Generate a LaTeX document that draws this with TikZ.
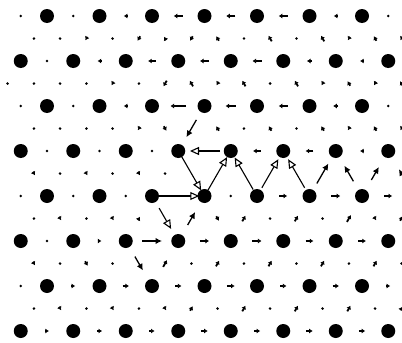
\documentclass[tikz,border=0pt]{standalone}
\usetikzlibrary{arrows.meta}
\begin{document}
\begin{tikzpicture}[x=1pt, y=-1pt,
    disp/.style={line width=1.8pt, -{Latex[length=3.6pt, width=5pt]}},
    bigdisp/.style={line width=1.3pt, -{Latex[length=6.5pt, width=6.5pt]}},
    opendisp/.style={line width=1.1pt, -{Triangle[fill=white, length=9pt, width=8pt]}}]
    \useasboundingbox (0,0) rectangle (402,343);
    % lattice sites
    \foreach \y in {16,106,196,286} {
        \foreach \k in {0,...,6} {
            \fill (47+52.5*\k, \y) circle (7pt);
        }
    }
    \foreach \y in {61,151,241,331} {
        \foreach \k in {0,...,7} {
            \fill (20.75+52.5*\k, \y) circle (7pt);
        }
    }
    % tiny bond values
    \foreach \y/\row in {16/{20.75,73.25,388.25}, 61/{47}, 106/{20.75,73.25,388.25},
        151/{47,99.5,152}, 196/{20.75,73.25,125.75,230.75}, 241/{47}, 286/{20.75},
        38.5/{33.9,60.1,112.6,243.9,296.4}, 83.5/{7.6,33.9,60.1,86.4,138.9,270.1},
        128.5/{33.9,60.1,86.4,112.6,243.9,296.4}, 173.5/{60.1,112.6,165.1},
        218.5/{33.9,86.4,270.1,322.6}, 263.5/{60.1,112.6,191.4,243.9,296.4,348.9,401.4},
        308.5/{33.9,86.4,138.9,217.6,270.1,322.6,375.1}} {
        \foreach \x in \row {
            \fill (\x, \y) circle (1.4pt);
        }
    }
    % horizontal bonds
    \foreach \y/\row in {16/{125.75/-3, 178.25/-7, 230.75/-7, 283.25/-7, 335.75/-3},
        61/{99.5/-3, 152/-6, 204.5/-7, 257/-7, 309.5/-4, 362/-3},
        106/{125.75/-3, 178.25/-12, 230.75/-8, 283.25/-7, 335.75/-4},
        151/{257/-6, 309.5/-6, 362/-3},
        196/{283.25/6, 335.75/7, 388.25/6},
        241/{99.5/3, 204.5/7, 257/7, 309.5/6, 362/6},
        286/{73.25/3, 125.75/5, 178.25/5, 230.75/6, 283.25/5, 335.75/5, 388.25/3},
        331/{47/3, 99.5/4, 152/4, 204.5/5, 257/5, 309.5/5, 362/5}} {
        \foreach \x/\d in \row {
            \draw[disp] (\x, \y) ++(180:0.65*\d) -- ++(0:1.3*\d);
        }
    }
    % bonds rising to the right
    \foreach \y/\row in {38.5/{86.4/-3, 138.9/-4, 191.4/-4, 348.9/-3, 401.4/-3},
        83.5/{112.6/-3, 165.1/-5, 217.6/-3, 322.6/-3, 375.1/-3},
        128.5/{138.9/-3, 348.9/-3, 401.4/-3},
        218.5/{138.9/3, 243.9/5, 296.4/5, 348.9/6, 401.4/4},
        263.5/{165.1/6, 217.6/5, 270.1/5, 322.6/5, 375.1/5},
        308.5/{191.4/4, 243.9/5, 296.4/5, 348.9/5, 401.4/3}} {
        \foreach \x/\d in \row {
            \draw[disp] (\x, \y) ++(120:0.65*\d) -- ++(-60:1.3*\d);
        }
    }
    % bonds rising to the left
    \foreach \y/\row in {38.5/{165.1/3, 217.6/4, 270.1/5, 322.6/5, 375.1/4},
        83.5/{191.4/5, 243.9/5, 296.4/5, 348.9/4, 401.4/4},
        128.5/{165.1/-4, 217.6/4, 270.1/4, 322.6/4, 375.1/4},
        173.5/{33.9/-3, 86.4/-3, 138.9/-3},
        218.5/{60.1/-3, 112.6/-3, 217.6/-4, 375.1/-3},
        263.5/{33.9/-3, 86.4/-4},
        308.5/{60.1/-3, 112.6/-3, 165.1/-3}} {
        \foreach \x/\d in \row {
            \draw[disp] (\x, \y) ++(60:0.65*\d) -- ++(-120:1.3*\d);
        }
    }
    % large values near the core
    \foreach \a/\x/\y/\d in {0/152/241/20, -60/191.4/128.5/-20, -120/138.9/263.5/-16,
        -60/191.4/218.5/15, -60/322.6/173.5/23, -120/348.9/173.5/18,
        -60/375.1/173.5/15, -120/401.4/173.5/10} {
        \draw[bigdisp] (\x, \y) ++(\a+180:\d/2) -- ++(\a:\d);
    }
    \foreach \a/\x/\y/\d in {0/205/151/-30, 0/178.25/196/42, -120/191.4/173.5/-39,
        -60/217.6/173.5/38, -120/243.9/173.5/37, -60/270.1/173.5/33,
        -120/296.4/173.5/33, -120/165.1/218.5/-24} {
        \draw[opendisp] (\x, \y) ++(\a+180:\d/2) -- ++(\a:\d);
    }
\end{tikzpicture}
\end{document}
